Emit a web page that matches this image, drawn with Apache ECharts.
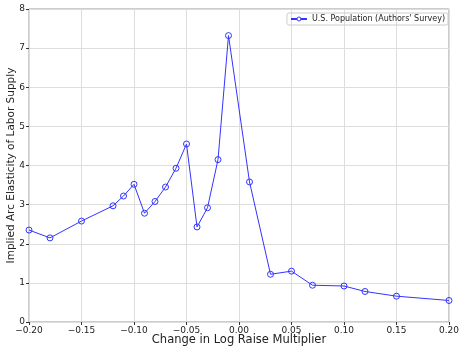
<!DOCTYPE html>
<html><head><meta charset="utf-8">
<script src="https://cdn.jsdelivr.net/npm/echarts@6/dist/echarts.min.js"></script>
<style>html,body{margin:0;padding:0;background:#fff}#c{width:459px;height:347px}</style>
</head><body><div id="c"></div>
<script>
const xValues = [-0.20,-0.18,-0.15,-0.12,-0.11,-0.10,-0.09,-0.08,-0.07,-0.06,-0.05,-0.04,-0.03,-0.02,-0.01,0.01,0.03,0.05,0.07,0.10,0.12,0.15,0.20];
const elasticity = [2.35,2.15,2.58,2.97,3.22,3.52,2.78,3.08,3.45,3.93,4.55,2.43,2.92,4.15,7.32,3.58,1.22,1.30,0.94,0.92,0.78,0.66,0.55];
const seriesName = "U.S. Population (Authors' Survey)";
const chart = echarts.init(document.getElementById('c'));
const fam = 'DejaVu Sans';
chart.setOption({
  animation:false,
  grid:{left:29,right:10,top:9,bottom:25,show:true,borderColor:'#999',borderWidth:1,containLabel:false,outerBoundsMode:'none'},
  legend:{top:13,right:11,itemWidth:16,itemHeight:5,itemGap:4,borderColor:'#ccc',borderWidth:1,borderRadius:2,padding:[2,3],
    itemStyle:{color:'#fff',borderColor:'#3333ff',borderWidth:1},
    textStyle:{fontFamily:fam,fontSize:8,color:'#222'}},
  xAxis:{type:'value',min:-0.2,max:0.2,interval:0.05,
    name:'Change in Log Raise Multiplier',nameLocation:'middle',nameGap:12,nameMoveOverlap:false,
    nameTextStyle:{fontFamily:fam,fontSize:11.5,color:'#222',verticalAlign:'top'},
    axisLine:{show:false,onZero:false},axisTick:{show:true,length:3,lineStyle:{color:'#333'}},
    axisLabel:{fontFamily:fam,fontSize:9,color:'#222',margin:4,
      formatter:v=>(v<0?'\u2212':'')+Math.abs(v).toFixed(2)},
    splitLine:{show:true,lineStyle:{color:'#ddd',width:1}}},
  yAxis:{type:'value',min:0,max:8,interval:1,
    name:'Implied Arc Elasticity of Labor Supply',nameLocation:'middle',nameGap:12,nameMoveOverlap:false,
    nameTextStyle:{fontFamily:fam,fontSize:10.5,color:'#222'},
    axisLine:{show:false,onZero:false},axisTick:{show:true,length:3,lineStyle:{color:'#333'}},
    axisLabel:{fontFamily:fam,fontSize:9,color:'#222',margin:4},
    splitLine:{show:true,lineStyle:{color:'#ddd',width:1}}},
  series:[{name:seriesName,type:'line',data:xValues.map((x,i)=>[x,elasticity[i]]),
    symbol:'circle',symbolSize:6,showAllSymbol:true,
    lineStyle:{color:'#3333ff',width:1},
    itemStyle:{color:'rgba(255,255,255,0)',borderColor:'#3333ff',borderWidth:1},
    z:5,clip:false}]
});
</script></body></html>
